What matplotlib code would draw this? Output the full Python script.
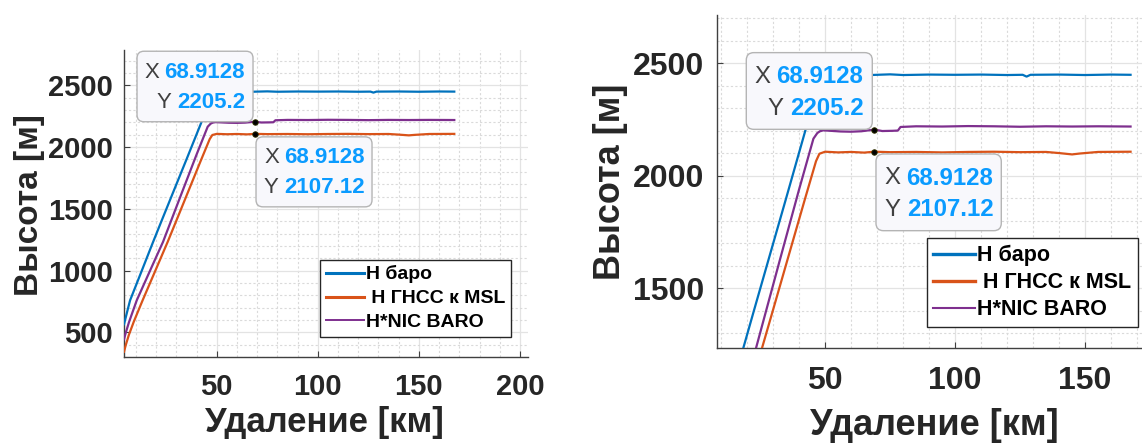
import numpy as np
import matplotlib
matplotlib.use('Agg')
import matplotlib.pyplot as plt
from matplotlib.ticker import MultipleLocator
from matplotlib.patches import FancyBboxPatch
from matplotlib.lines import Line2D

plt.rcParams['font.family'] = ['Liberation Sans', 'DejaVu Sans']

# distance [km] and altitude [m]
baro_x = [4.1, 5.0, 6.0, 7.1, 10, 14, 18.5, 22.7, 28.2, 35, 42, 47.5, 48.5, 50, 55, 60, 65, 70,
          75, 80, 90, 100, 110, 120, 126, 127.5, 129, 140, 150, 160, 167.5]
baro_y = [567, 625, 690, 760, 880, 1046, 1233, 1404, 1626, 1900, 2185, 2415, 2440, 2450, 2448, 2450,
          2447, 2449, 2451, 2448, 2450, 2449, 2450, 2448, 2449, 2441, 2449, 2450, 2448, 2450, 2449]

gnss_x = [4.1, 5.0, 6.5, 9.0, 13.3, 18, 25.7, 30, 35.5, 42, 46.5, 47.8, 50, 55, 60, 65, 68.9128,
          75, 85, 95, 105, 115, 125, 135, 140, 145, 148, 155, 167.5]
gnss_y = [344, 400, 480, 590, 760, 939, 1233, 1405, 1626, 1887, 2065, 2098, 2107, 2104, 2106, 2103,
          2107.12, 2105, 2106, 2104, 2106, 2107, 2105, 2106, 2101, 2095, 2099, 2106, 2107]

nic_x = [4.1, 5.0, 6.5, 8.0, 10.4, 15, 20, 23.4, 27.4, 32.6, 40, 45.5, 47, 48, 49.3, 52, 56, 60,
         64, 68.9128, 72, 76, 78, 79, 85, 95, 105, 115, 125, 135, 145, 155, 167.5]
nic_y = [446, 500, 580, 650, 760, 928, 1110, 1233, 1404, 1626, 1940, 2165, 2190, 2198, 2202, 2200,
         2197, 2196, 2198, 2205.2, 2199, 2200, 2201, 2217, 2220, 2219, 2221, 2220, 2218, 2220,
         2219, 2220, 2219]

labels = ['H баро', ' H ГНСС к MSL', 'H*NIC BARO']
colors = ['#0072BD', '#D95319', '#7E2F8E']

tip_x = 68.9128
tip_nic = 2205.2
tip_gnss = 2107.12

TXT = '#262626'
TIP_BLUE = '#0A9BFF'


def datatip(ax, x, y, lines, box, text_right, rows, fs):
    # box / text offsets are in pixels relative to the data point (y up)
    x0, y0, x1, y1 = box
    fig = ax.figure
    ax.plot([x], [y], 'o', color='k', ms=4, mec='#333300', mew=0.6, zorder=6)
    fig.canvas.draw()
    px, py = ax.transData.transform((x, y))
    inv = ax.transData.inverted()
    dx0, dy0 = inv.transform((px + x0, py + y0))
    dx1, dy1 = inv.transform((px + x1, py + y1))
    patch = FancyBboxPatch((dx0, dy0), dx1 - dx0, dy1 - dy0,
                           boxstyle='round,pad=0,rounding_size=%f' % (min(dx1 - dx0, dy1 - dy0) * 0.06),
                           mutation_aspect=(dy1 - dy0) / (dx1 - dx0) * abs(x1 - x0) / abs(y1 - y0),
                           fc='#F8F8FC', ec='#B4B4B4', lw=1.0, zorder=7)
    ax.add_patch(patch)
    renderer = fig.canvas.get_renderer()
    for (lab, val), ry in zip(lines, rows):
        t = ax.annotate(val, xy=(x, y), xytext=(text_right, ry), textcoords='offset pixels',
                        ha='right', va='center', fontsize=fs, fontweight='bold',
                        color=TIP_BLUE, zorder=8)
        w = t.get_window_extent(renderer).width
        ax.annotate(lab, xy=(x, y), xytext=(text_right - w - fs * 0.35, ry),
                    textcoords='offset pixels', ha='right', va='center', fontsize=fs,
                    color='#404040', zorder=8)


def setup(ax, xlim, ylim, xticks, yticks, tick_fs, xpad, ypad):
    for xs, ys, c in zip([baro_x, gnss_x, nic_x], [baro_y, gnss_y, nic_y], colors):
        ax.plot(xs, ys, color=c, lw=1.6, zorder=3)
    ax.set_xlim(*xlim)
    ax.set_ylim(*ylim)
    ax.set_xticks(xticks)
    ax.set_yticks(yticks)
    ax.xaxis.set_minor_locator(MultipleLocator(10))
    ax.yaxis.set_minor_locator(MultipleLocator(100))
    ax.grid(True, which='major', color='#E3E3E3', lw=0.9)
    ax.grid(True, which='minor', color='#DADADA', lw=0.8, ls=(0, (2, 2)))
    ax.set_axisbelow(True)
    for s in ['top', 'right']:
        ax.spines[s].set_visible(False)
    for s in ['left', 'bottom']:
        ax.spines[s].set_color('#404040')
        ax.spines[s].set_linewidth(1.0)
    ax.tick_params(which='major', direction='in', length=4, width=0.8, color='#404040',
                   labelsize=tick_fs, labelcolor=TXT)
    ax.tick_params(axis='x', which='major', pad=xpad)
    ax.tick_params(axis='y', which='major', pad=ypad)
    ax.tick_params(which='minor', length=0)
    for lbl in ax.get_xticklabels() + ax.get_yticklabels():
        lbl.set_fontweight('bold')


fig = plt.figure(figsize=(11.42, 4.43), dpi=100)

# left panel
ax1 = fig.add_axes([0.1086, 0.1935, 0.3538, 0.6937])
setup(ax1, (4.1, 204), (299, 2786), [50, 100, 150, 200], [500, 1000, 1500, 2000, 2500], 21, 11, 8)
ax1.set_xlabel('Удаление [км]', fontsize=25, fontweight='bold', color=TXT, va='top')
ax1.xaxis.set_label_coords(0.495, -0.16)
ax1.set_ylabel('Высота [м]', fontsize=24, fontweight='bold', color=TXT, va='center')
ax1.yaxis.set_label_coords(-0.235, 0.496)

# right panel
ax2 = fig.add_axes([0.6276, 0.2138, 0.3724, 0.7524])
setup(ax2, (8.3, 171.9), (1233, 2715), [50, 100, 150], [1500, 2000, 2500], 23, 13, 9)
ax2.set_xlabel('Удаление [км]', fontsize=26, fontweight='bold', color=TXT, va='top')
ax2.xaxis.set_label_coords(0.512, -0.178)
ax2.set_ylabel('Высота [м]', fontsize=26, fontweight='bold', color=TXT, va='center')
ax2.yaxis.set_label_coords(-0.25, 0.499)

# legends
for ax, anchor, fs, lw_list, sp in [(ax1, (0.4475, 0.2393), 14, [2.2, 2.2, 1.4], 0.32),
                                    (ax2, (0.9965, 0.2625), 15.5, [2.4, 2.4, 1.5], 0.28)]:
    handles = [Line2D([], [], color=c, lw=w) for c, w in zip(colors, lw_list)]
    leg = ax.legend(handles, labels, loc='lower right', bbox_to_anchor=anchor,
                    bbox_transform=fig.transFigure, borderaxespad=0, fancybox=False,
                    edgecolor='#262626', framealpha=1, handlelength=1.95, handletextpad=0.1,
                    borderpad=0.3, labelspacing=sp, prop={'weight': 'bold', 'size': fs})
    leg.get_frame().set_linewidth(1.0)
    leg.set_zorder(10)

# data tips
datatip(ax1, tip_x, tip_nic, [('X', '68.9128'), ('Y', '2205.2')],
        (-118, 0, -2, 70.5), -10, [49, 19], 16)
datatip(ax1, tip_x, tip_gnss, [('X', '68.9128'), ('Y', '2107.12')],
        (1, -73, 117, -3), 110, [-24, -54], 16)
datatip(ax2, tip_x, tip_nic, [('X', '68.9128'), ('Y', '2205.2')],
        (-128, 0.3, -2, 77), -11, [53, 21], 17.3)
datatip(ax2, tip_x, tip_gnss, [('X', '68.9128'), ('Y', '2107.12')],
        (1.7, -79, 127, -2.3), 119, [-26.6, -58], 17.3)

fig.savefig('out.png', dpi=100)
